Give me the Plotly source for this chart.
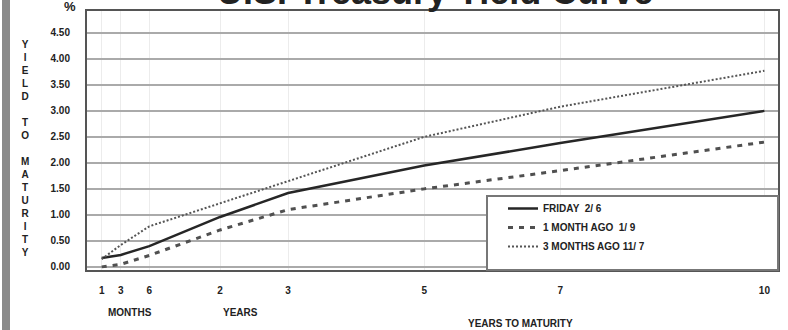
import numpy as np
import plotly.graph_objects as go

# ---- data ----
maturity_years = [1/12, 0.25, 0.5, 2, 3, 5, 7, 10]
friday_2_6 = [0.17, 0.23, 0.40, 0.96, 1.42, 1.95, 2.38, 3.00]
month_ago_1_9 = [0.00, 0.05, 0.22, 0.71, 1.10, 1.50, 1.85, 2.40]
months3_ago_11_7 = [0.15, 0.42, 0.78, 1.22, 1.65, 2.50, 3.08, 3.77]
series_names = ["FRIDAY  2/ 6", "1 MONTH AGO  1/ 9", "3 MONTHS AGO 11/ 7"]
tick_maturities = [1/12, 0.25, 0.5, 2, 3, 5, 7, 10]
tick_labels = ["1", "3", "6", "2", "3", "5", "7", "10"]
y_ticks = [0, 0.5, 1.0, 1.5, 2.0, 2.5, 3.0, 3.5, 4.0, 4.5]

# axis scale: month section is stretched, years are linear
def xscale(t):
    return np.interp(t, [1/12, 0.5, 2, 10], [0.26, 0.96, 2, 10])

W, H = 788, 330
L, R, T, B = 87, 10, 11, 60
pw, ph = W - L - R, H - T - B
def px(x):
    return (x - L) / pw
def py(y):
    return (H - B - y) / ph

BOLD = dict(family="Liberation Sans, Arial, sans-serif", weight="bold", color="#222")

fig = go.Figure()
xs = xscale(maturity_years)
fig.add_trace(go.Scatter(x=xs, y=friday_2_6, mode="lines", name=series_names[0],
                         line=dict(color="#262626", width=2.5)))
fig.add_trace(go.Scatter(x=xs, y=month_ago_1_9, mode="lines", name=series_names[1],
                         line=dict(color="#505050", width=3, dash="5px,6px")))
fig.add_trace(go.Scatter(x=xs, y=months3_ago_11_7, mode="lines", name=series_names[2],
                         line=dict(color="#555", width=2, dash="2px,2px")))

shapes = [
    # legend box
    dict(type="rect", xref="paper", yref="paper", x0=px(487), x1=1, y0=0, y1=py(196),
         fillcolor="white", line=dict(color="#777", width=2), layer="above"),
    # left frame bar
    dict(type="rect", xref="paper", yref="paper", x0=px(2), x1=px(10), y0=py(H), y1=py(0),
         fillcolor="#8a8a8a", line=dict(width=0), layer="above"),
]

annotations = [
    dict(text="U.S. Treasury Yield Curve", xref="paper", yref="paper", x=px(435), y=1,
         xanchor="center", yanchor="bottom", yshift=-3, showarrow=False,
         font=dict(size=36, **BOLD)),
    dict(text="%", xref="paper", yref="paper", x=px(70), y=py(6), xanchor="center",
         yanchor="middle", showarrow=False, font=dict(size=13, **BOLD)),
    dict(text="<br>".join(list("YIELD TO MATURITY")), xref="paper", yref="paper",
         x=px(25), y=py(148), xanchor="center", yanchor="middle", showarrow=False,
         font=dict(size=10, **BOLD)),
    dict(text="MONTHS", xref="paper", yref="paper", x=px(130), y=py(312), xanchor="center",
         yanchor="middle", showarrow=False, font=dict(size=10, **BOLD)),
    dict(text="YEARS", xref="paper", yref="paper", x=px(240), y=py(312), xanchor="center",
         yanchor="middle", showarrow=False, font=dict(size=10, **BOLD)),
    dict(text="YEARS TO MATURITY", xref="paper", yref="paper", x=px(520), y=py(323),
         xanchor="center", yanchor="middle", showarrow=False, font=dict(size=10, **BOLD)),
]

fig.update_layout(
    width=W, height=H,
    margin=dict(l=L, r=R, t=T, b=B),
    paper_bgcolor="white", plot_bgcolor="white",
    shapes=shapes, annotations=annotations,
    showlegend=True,
    legend=dict(x=px(503), y=py(194), xanchor="left", yanchor="top",
                bgcolor="rgba(0,0,0,0)", borderwidth=0,
                font=dict(size=10, **BOLD), tracegroupgap=0),
    xaxis=dict(range=[0.044, 10.2], tickvals=list(xscale(tick_maturities)), ticktext=tick_labels,
               showgrid=True, gridcolor="#ececec", gridwidth=1, zeroline=False,
               showline=True, linecolor="#555", linewidth=2, mirror=True,
               ticks="outside", ticklen=10, tickcolor="rgba(0,0,0,0)",
               tickfont=dict(size=10, **BOLD), automargin=False),
    yaxis=dict(range=[-0.06, 4.92], tickvals=y_ticks, tickformat=".2f",
               showgrid=True, gridcolor="#aaaaaa", gridwidth=2, zeroline=False,
               showline=True, linecolor="#555", linewidth=2, mirror=True,
               ticks="outside", ticklen=13, tickcolor="rgba(0,0,0,0)",
               tickfont=dict(size=10, **BOLD), automargin=False),
)

fig.write_html(
    "out.html",
    config={"displayModeBar": False},
    post_script="document.documentElement.style.margin='0';document.body.style.margin='0';"
                "document.body.style.overflow='hidden';",
)
